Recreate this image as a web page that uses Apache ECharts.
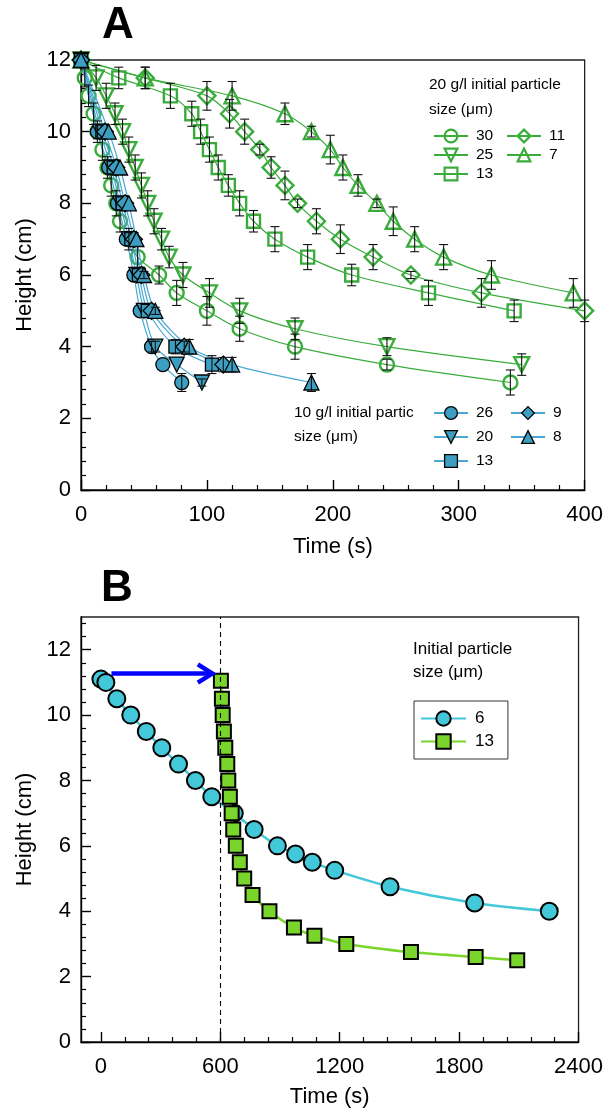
<!DOCTYPE html>
<html><head><meta charset="utf-8">
<script src="https://cdn.jsdelivr.net/npm/echarts@6/dist/echarts.min.js"></script>
<style>html,body{margin:0;padding:0;background:#fff}#c{width:606px;height:1109px}</style>
</head><body><div id="c"></div>
<script>
// ---------- Panel A : 20 g/l (hollow green) ----------
const a30_t = [0,3,6,10,13,17,21,24,28,31,38,45,62,76,100,126,170,243,341];
const a30_h = [12,11.5,11,10.5,10,9.5,9,8.5,8,7.5,7,6.5,6,5.5,5,4.5,4,3.5,3];
const a30_e = [0,0.25,0.3,0.3,0.3,0.3,0.3,0.3,0.35,0.3,0.3,0.3,0.25,0.35,0.4,0.35,0.35,0.15,0.35];

const a25_t = [0,12,20,27,33,38,43,48,53,58,64,70,81,102,126,170,243,350];
const a25_h = [12,11.5,11,10.5,10,9.5,9,8.5,8,7.5,7,6.5,6,5.5,5,4.5,4,3.5];
const a25_e = [0,0.35,0.35,0.3,0.35,0.35,0.35,0.35,0.35,0.35,0.3,0.3,0.35,0.4,0.35,0.3,0.25,0.3];

const a13_t = [0,30,71,88,95,102,109,117,126,137,154,180,215,276,344];
const a13_h = [12,11.5,11,10.5,10,9.5,9,8.5,8,7.5,7,6.5,6,5.5,5];
const a13_e = [0,0.3,0.35,0.35,0.35,0.35,0.35,0.3,0.35,0.3,0.35,0.35,0.3,0.35,0.3];

const a11_t = [0,51,100,118,130,142,151,162,172,187,206,232,262,318,400];
const a11_h = [12,11.5,11,10.5,10,9.5,9,8.5,8,7.5,7,6.5,6,5.5,5];
const a11_e = [0,0.3,0.4,0.4,0.35,0.15,0.3,0.4,0.12,0.35,0.4,0.35,0.1,0.4,0.3];

const a7_t = [0,51,120,162,183,198,208,220,235,248,265,288,326,391];
const a7_h = [12,11.5,11,10.5,10,9.5,9,8.5,8,7.5,7,6.5,6,5.5];
const a7_e = [0,0.3,0.4,0.3,0.15,0.4,0.35,0.3,0.12,0.4,0.35,0.35,0.4,0.4];

// ---------- Panel A : 10 g/l (filled blue) ----------
const b26_t = [0,13,22,29,36,42,47,56,65,80];
const b26_h = [12,10,9,8,7,6,5,4,3.5,3];
const b26_e = [0,0.2,0,0,0,0,0,0.15,0,0.25];

const b20_t = [0,15,24,31,38,44,50,59,76,96];
const b20_h = [12,10,9,8,7,6,5,4,3.5,3];
const b20_e = [0,0,0,0,0,0,0,0.15,0,0.1];

const b13_t = [0,17,26,33,40,46,53,75,104];
const b13_h = [12,10,9,8,7,6,5,4,3.5];
const b13_e = [0,0,0,0,0,0,0,0.2,0.25];

const b9_t = [0,19,28,35,42,48,56,82,113];
const b9_h = [12,10,9,8,7,6,5,4,3.5];
const b9_e = [0,0,0,0,0,0,0,0.15,0.2];

const b8_t = [0,22,31,38,44,50,59,86,120,183];
const b8_h = [12,10,9,8,7,6,5,4,3.5,3];
const b8_e = [0,0,0,0,0,0.1,0.1,0.2,0.2,0.25];

// ---------- Panel B ----------
const c6_t = [0,25,80,150,228,306,390,475,557,670,770,887,978,1062,1175,1453,1878,2253];
const c6_h = [11.1,11.0,10.5,10,9.5,9,8.5,8,7.5,7,6.5,6,5.75,5.5,5.25,4.75,4.25,4.0];

const c13_t = [603,608,612,618,625,635,640,648,657,665,678,698,720,762,847,970,1073,1233,1558,1883,2092];
const c13_h = [11.05,10.5,10,9.5,9,8.5,8,7.5,7,6.5,6,5.5,5,4.5,4,3.5,3.25,3.0,2.75,2.6,2.5];

const arrowShaft_t = [53,560];
const arrowShaft_h = [11.27,11.27];
const arrowHead_t = [487,560,487];
const arrowHead_h = [11.55,11.27,10.99];
const dashedTime = 600;

// tick values panel B
const B_xLabels = [0,600,1200,1800,2400];
const B_xMinor = [120,240,360,480,720,840,960,1080,1320,1440,1560,1680,1920,2040,2160,2280];
const B_yLabels = [0,2,4,6,8,10,12];
const B_yMinor = [0.4,0.8,1.2,1.6,2.4,2.8,3.2,3.6,4.4,4.8,5.2,5.6,6.4,6.8,7.2,7.6,8.4,8.8,9.2,9.6,10.4,10.8,11.2,11.6,12.4,12.8];

const F = 'Liberation Sans, Arial, Helvetica, sans-serif';
const GREEN = '#3aac3c';
const BLUEF = '#3c9fc2';
const BLUEL = '#48a8d2';
const CYAN = '#42c8d8';
const LIME = '#79d52c';

const zip = (t, h) => t.map((v, i) => [v, h[i]]);
const zip3 = (t, h, e) => t.map((v, i) => [v, h[i], e[i]]);
const plain = v => String(v);

function hollow(name, t, h, symbol, size, rot) {
  return {
    type: 'line', name, xAxisIndex: 0, yAxisIndex: 0, data: zip(t, h),
    smooth: 0.3, symbol, symbolSize: size, symbolRotate: rot || 0, showAllSymbol: true,
    lineStyle: { color: GREEN, width: 1.2 },
    itemStyle: { color: 'rgba(255,255,255,0)', borderColor: GREEN, borderWidth: 2.4 },
    emphasis: { disabled: true }, z: 3
  };
}
function filled(name, t, h, symbol, size, rot) {
  return {
    type: 'line', name, xAxisIndex: 0, yAxisIndex: 0, data: zip(t, h),
    smooth: 0.3, symbol, symbolSize: size, symbolRotate: rot || 0, showAllSymbol: true,
    lineStyle: { color: BLUEL, width: 1.2 },
    itemStyle: { color: BLUEF, borderColor: '#000', borderWidth: 1.3 },
    emphasis: { disabled: true }, z: 4
  };
}
function errRender(params, api) {
  const x = api.value(0), y = api.value(1), e = api.value(2);
  if (!e) return null;
  const hi = api.coord([x, y + e]), lo = api.coord([x, y - e]);
  const w = 4.5, st = { stroke: '#111', lineWidth: 1.1 };
  return { type: 'group', children: [
    { type: 'line', shape: { x1: hi[0], y1: hi[1], x2: lo[0], y2: lo[1] }, style: st },
    { type: 'line', shape: { x1: hi[0] - w, y1: hi[1], x2: hi[0] + w, y2: hi[1] }, style: st },
    { type: 'line', shape: { x1: lo[0] - w, y1: lo[1], x2: lo[0] + w, y2: lo[1] }, style: st }
  ]};
}
function errSeries(t, h, e) {
  return { type: 'custom', xAxisIndex: 0, yAxisIndex: 0, data: zip3(t, h, e),
    renderItem: errRender, encode: { x: 0, y: 1 }, z: 6, silent: true };
}

const axisCommon = {
  axisLine: { show: true, onZero: false, lineStyle: { color: '#000', width: 1.4 } },
  axisTick: { show: true, inside: true, length: 10, lineStyle: { color: '#000', width: 1.4 } },
  minorTick: { show: true, splitNumber: 5, length: 5, lineStyle: { color: '#000', width: 1.2 } },
  splitLine: { show: false },
  nameTextStyle: { fontSize: 22, color: '#000', fontFamily: F },
};

const legendCommon = {
  orient: 'vertical', padding: 0, selectedMode: false,
  formatter: n => n.slice(1),
  textStyle: { fontSize: 15.5, color: '#000', fontFamily: F, padding: [0, 0, 0, 3] }
};

const option = {
  animation: false,
  backgroundColor: '#fff',
  grid: [
    { left: 81, top: 60, width: 504, height: 430, show: true, borderColor: '#222', borderWidth: 1.3, backgroundColor: 'transparent' },
    { left: 81, top: 617, width: 498, height: 427, show: true, borderColor: '#222', borderWidth: 1.3, backgroundColor: 'transparent' }
  ],
  xAxis: [
    Object.assign({}, axisCommon, { gridIndex: 0, type: 'value', min: 0, max: 400, interval: 100,
      axisLabel: { fontSize: 22, color: '#000', fontFamily: F, margin: 14, formatter: plain },
      name: 'Time (s)', nameLocation: 'middle', nameGap: 46 }),
    Object.assign({}, axisCommon, { gridIndex: 1, type: 'value', min: -100, max: 2400,
      minorTick: { show: false },
      axisTick: { show: true, inside: true, length: 10, customValues: B_xLabels, lineStyle: { color: '#000', width: 1.4 } },
      axisLabel: { fontSize: 22, color: '#000', fontFamily: F, margin: 14, customValues: B_xLabels, formatter: plain },
      name: 'Time (s)', nameLocation: 'middle', nameGap: 44 }),
    { gridIndex: 1, type: 'value', min: -100, max: 2400, position: 'bottom',
      axisLine: { show: false, onZero: false }, splitLine: { show: false }, axisLabel: { show: false },
      axisTick: { show: true, inside: true, length: 5, customValues: B_xMinor, lineStyle: { color: '#000', width: 1.2 } } }
  ],
  yAxis: [
    Object.assign({}, axisCommon, { gridIndex: 0, type: 'value', min: 0, max: 12, interval: 2,
      axisLabel: { fontSize: 22, color: '#000', fontFamily: F, margin: 10, formatter: plain },
      name: 'Height (cm)', nameLocation: 'middle', nameGap: 45 }),
    Object.assign({}, axisCommon, { gridIndex: 1, type: 'value', min: 0, max: 13,
      minorTick: { show: false },
      axisTick: { show: true, inside: true, length: 10, customValues: B_yLabels, lineStyle: { color: '#000', width: 1.4 } },
      axisLabel: { fontSize: 22, color: '#000', fontFamily: F, margin: 10, customValues: B_yLabels, formatter: plain },
      name: 'Height (cm)', nameLocation: 'middle', nameGap: 45 }),
    { gridIndex: 1, type: 'value', min: 0, max: 13, position: 'left',
      axisLine: { show: false, onZero: false }, splitLine: { show: false }, axisLabel: { show: false },
      axisTick: { show: true, inside: true, length: 5, customValues: B_yMinor, lineStyle: { color: '#000', width: 1.2 } } }
  ],
  legend: [
    Object.assign({}, legendCommon, { data: ['a30', 'a25', 'a13'], left: 433, top: 128, itemWidth: 34, itemHeight: 16, itemGap: 3,
      itemStyle: { borderWidth: 2.2 } }),
    Object.assign({}, legendCommon, { data: ['a11', 'a7'], left: 506, top: 128, itemWidth: 34, itemHeight: 16, itemGap: 3,
      itemStyle: { borderWidth: 2.2 } }),
    Object.assign({}, legendCommon, { data: ['b26', 'b20', 'b13'], left: 433, top: 405, itemWidth: 34, itemHeight: 16, itemGap: 8,
      itemStyle: { borderWidth: 1.3 } }),
    Object.assign({}, legendCommon, { data: ['b9', 'b8'], left: 510, top: 405, itemWidth: 34, itemHeight: 16, itemGap: 8,
      itemStyle: { borderWidth: 1.3 } }),
    Object.assign({}, legendCommon, { data: ['c6', 'c13'], left: 414, top: 701, itemWidth: 45, itemHeight: 18, itemGap: 6,
      padding: [9, 14, 9, 6], borderColor: '#333', borderWidth: 1, backgroundColor: '#fff',
      textStyle: { fontSize: 17, color: '#000', fontFamily: F, padding: [0, 0, 0, 4] },
      itemStyle: { borderWidth: 2 } })
  ],
  series: [
    hollow('a30', a30_t, a30_h, 'circle', 14),
    hollow('a25', a25_t, a25_h, 'triangle', 15, 180),
    hollow('a13', a13_t, a13_h, 'rect', 13),
    hollow('a11', a11_t, a11_h, 'diamond', 17),
    hollow('a7', a7_t, a7_h, 'triangle', 15),
    errSeries(a30_t, a30_h, a30_e),
    errSeries(a25_t, a25_h, a25_e),
    errSeries(a13_t, a13_h, a13_e),
    errSeries(a11_t, a11_h, a11_e),
    errSeries(a7_t, a7_h, a7_e),
    filled('b26', b26_t, b26_h, 'circle', 14),
    filled('b20', b20_t, b20_h, 'triangle', 15, 180),
    filled('b13', b13_t, b13_h, 'rect', 13),
    filled('b9', b9_t, b9_h, 'diamond', 17),
    filled('b8', b8_t, b8_h, 'triangle', 15),
    errSeries(b26_t, b26_h, b26_e),
    errSeries(b20_t, b20_h, b20_e),
    errSeries(b13_t, b13_h, b13_e),
    errSeries(b9_t, b9_h, b9_e),
    errSeries(b8_t, b8_h, b8_e),
    {
      type: 'line', name: 'c6', xAxisIndex: 1, yAxisIndex: 1, data: zip(c6_t, c6_h),
      smooth: 0.3, symbol: 'circle', symbolSize: 17, showAllSymbol: true,
      lineStyle: { color: CYAN, width: 2.5 },
      itemStyle: { color: CYAN, borderColor: '#000', borderWidth: 2 },
      emphasis: { disabled: true }, z: 3,
      markLine: { silent: true, symbol: 'none', label: { show: false },
        lineStyle: { color: '#000', type: [5, 4], width: 1.1 },
        data: [{ xAxis: dashedTime }] }
    },
    {
      type: 'line', name: 'c13', xAxisIndex: 1, yAxisIndex: 1, data: zip(c13_t, c13_h),
      smooth: 0.3, symbol: 'rect', symbolSize: 14, showAllSymbol: true,
      lineStyle: { color: LIME, width: 2.5 },
      itemStyle: { color: LIME, borderColor: '#000', borderWidth: 2 },
      emphasis: { disabled: true }, z: 4
    },
    {
      type: 'line', name: 'arrow', xAxisIndex: 1, yAxisIndex: 1, data: zip(arrowShaft_t, arrowShaft_h),
      symbol: 'none', lineStyle: { color: '#0000ff', width: 4.5 }, z: 5, silent: true
    },
    {
      type: 'line', name: 'arrowhead', xAxisIndex: 1, yAxisIndex: 1, data: zip(arrowHead_t, arrowHead_h),
      symbol: 'none', lineStyle: { color: '#0000ff', width: 4.5, join: 'miter' }, z: 5, silent: true
    }
  ],
  graphic: [
    { type: 'text', x: 118, y: 26, style: { text: 'A', font: 'bold 44px ' + F, fill: '#000', align: 'center', verticalAlign: 'middle' } },
    { type: 'text', x: 117, y: 589, style: { text: 'B', font: 'bold 44px ' + F, fill: '#000', align: 'center', verticalAlign: 'middle' } },
    { type: 'text', x: 429, y: 85, style: { text: '20 g/l initial particle', font: '15.5px ' + F, fill: '#000', verticalAlign: 'middle' } },
    { type: 'text', x: 429, y: 110, style: { text: 'size (\u03bcm)', font: '15.5px ' + F, fill: '#000', verticalAlign: 'middle' } },
    { type: 'text', x: 294, y: 413, style: { text: '10 g/l initial partic', font: '15.5px ' + F, fill: '#000', verticalAlign: 'middle' } },
    { type: 'text', x: 294, y: 437, style: { text: 'size (\u03bcm)', font: '15.5px ' + F, fill: '#000', verticalAlign: 'middle' } },
    { type: 'text', x: 413, y: 649, style: { text: 'Initial particle', font: '17px ' + F, fill: '#000', verticalAlign: 'middle' } },
    { type: 'text', x: 413, y: 672, style: { text: 'size (\u03bcm)', font: '17px ' + F, fill: '#000', verticalAlign: 'middle' } }
  ]
};

const chart = echarts.init(document.getElementById('c'), null, { renderer: 'canvas' });
chart.setOption(option);
</script></body></html>
